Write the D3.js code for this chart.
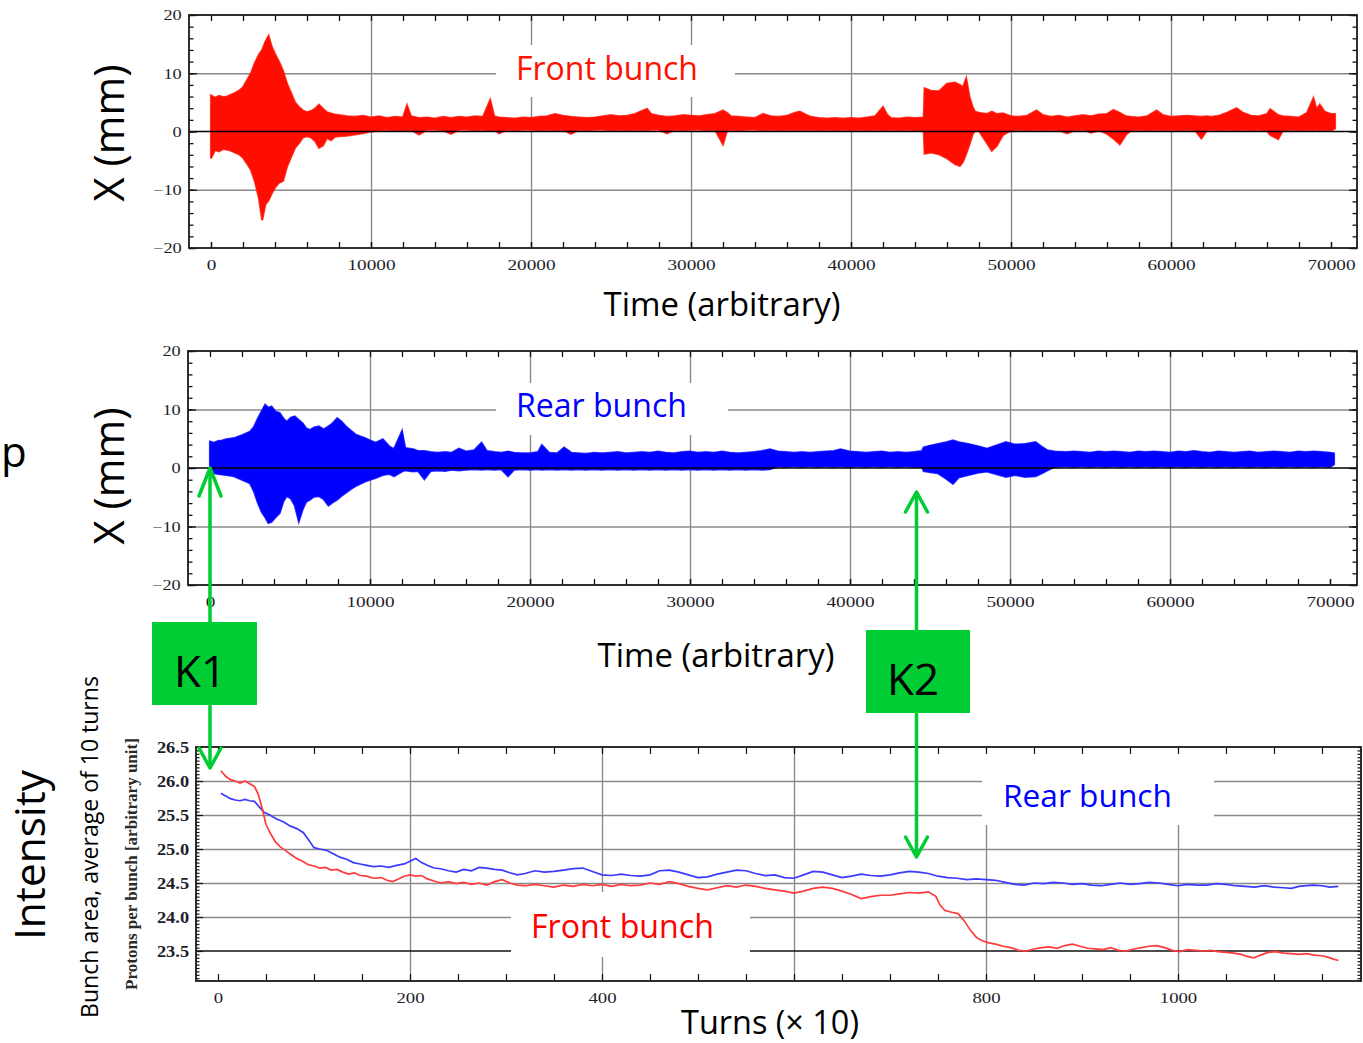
<!DOCTYPE html>
<html>
<head>
<meta charset="utf-8">
<script src="https://cdn.jsdelivr.net/npm/d3@7"></script>
<style>
  html, body { margin: 0; padding: 0; background: #ffffff; }
  svg { display: block; }
</style>
</head>
<body>
<script>
// ---------------------------------------------------------------
// Beam position envelopes: [time, upper edge (mm), lower edge (mm)]
// ---------------------------------------------------------------
const frontEnvelope = [
  [0,6.2,-4.6],[250,5.8,-3.2],[500,6.1,-3.4],[750,5.9,-3.0],[1000,6.0,-3.1],
  [1250,6.3,-3.3],[1500,6.6,-3.6],[1750,7.0,-3.9],[2000,7.6,-4.5],[2250,8.8,-5.5],
  [2500,10.0,-6.6],[2750,11.8,-8.6],[3000,13.2,-11.5],[3200,14.0,-15.2],[3400,15.4,-12.5],
  [3600,16.4,-11.8],[3800,14.5,-10.6],[4000,13.3,-9.6],[4250,12.0,-8.8],[4500,10.4,-8.5],
  [4750,8.2,-6.0],[5000,6.6,-4.4],[5250,5.0,-2.8],[5500,4.2,-2.0],[5750,3.6,-1.0],
  [6000,3.3,-0.8],[6250,3.5,-1.0],[6500,3.9,-1.6],[6750,4.6,-2.8],[7000,3.9,-2.4],
  [7250,3.3,-1.1],[7500,3.1,-1.5],[7750,2.9,-0.9],[8000,2.8,-0.8],[8500,2.6,-0.7],
  [9000,2.5,-0.5],[9500,2.7,-0.3],[10000,2.4,0.0],[10500,2.6,0.2],[11000,2.3,0.3],
  [11500,2.5,0.1],[12000,2.4,0.2],[12250,4.5,0.2],[12500,2.6,0.3],[13000,2.3,-0.5],
  [13500,2.4,0.3],[14000,2.2,0.3],[14500,2.5,0.2],[15000,2.3,-0.4],[15500,2.5,0.3],
  [16000,2.4,0.3],[16500,2.6,0.2],[17000,2.5,0.3],[17450,5.4,0.1],[17700,2.6,0.3],
  [18000,2.4,-0.3],[18500,2.3,0.3],[19000,2.2,0.2],[19500,2.4,0.3],[20000,2.3,0.3],
  [20500,2.5,0.2],[21000,2.6,0.3],[21500,3.0,0.2],[22000,2.7,0.3],[22500,2.5,-0.4],
  [23000,2.4,0.3],[23500,2.3,0.2],[24000,2.4,0.3],[24500,2.6,0.3],[25000,2.8,0.2],
  [25500,2.6,0.3],[26000,2.7,0.2],[26500,3.0,0.3],[27250,3.9,0.2],[27500,3.0,0.3],
  [28000,2.7,0.3],[28500,2.5,-0.3],[29000,2.6,0.3],[29500,2.8,0.2],[30000,2.7,0.3],
  [30500,2.6,0.3],[31000,2.8,0.2],[31500,3.0,0.3],[32000,3.6,-2.2],[32250,3.2,0.2],
  [32500,2.6,0.3],[33000,2.5,0.2],[33500,2.4,0.3],[34000,2.3,0.3],[34500,3.0,0.2],
  [35000,2.6,0.3],[35500,2.5,0.2],[36000,2.7,0.3],[36500,3.2,0.2],[36800,3.4,0.3],
  [37250,2.8,0.2],[37500,2.5,0.3],[38000,2.3,0.2],[38500,2.2,0.3],[39000,2.3,0.2],
  [39500,2.2,0.3],[40000,2.3,0.2],[40500,2.2,0.3],[41000,2.4,0.2],[41500,2.6,0.3],
  [42000,4.2,0.2],[42250,2.9,0.2],[42500,2.3,0.3],[43000,2.2,0.2],[43500,2.4,0.3],
  [44000,2.3,0.2],[44550,2.4,0.2],[44600,7.4,-3.8],[45000,7.0,-3.6],[45500,6.9,-3.9],
  [46000,8.2,-4.6],[46500,8.4,-5.6],[46800,8.0,-5.9],[47000,7.6,-5.2],[47200,9.1,-3.8],
  [47400,6.0,-2.2],[47600,4.2,-0.5],[47750,3.4,0.2],[48000,3.2,0.1],[48500,3.0,-2.0],
  [48800,3.4,-3.3],[49100,3.0,-2.5],[49500,3.1,-0.6],[50000,2.6,0.2],[50500,2.5,0.3],
  [51000,2.7,0.2],[51600,3.6,0.3],[52000,2.8,0.2],[52500,2.5,0.3],[53000,2.7,0.2],
  [53500,2.4,-0.3],[54000,2.6,0.2],[54500,2.8,0.3],[55000,2.6,-0.2],[55500,2.9,0.2],
  [56000,3.0,-0.4],[56400,3.7,-1.2],[56800,3.2,-2.2],[57200,2.6,-0.5],[57500,2.5,0.2],
  [58000,2.4,0.3],[58500,2.6,0.2],[59100,3.6,0.3],[59500,2.8,0.2],[60000,2.5,0.3],
  [60500,2.6,0.2],[61000,2.7,0.3],[61500,2.6,0.2],[61900,2.5,-1.2],[62250,2.6,0.2],
  [62500,2.5,0.3],[63000,2.7,0.2],[63500,3.2,0.3],[64100,4.0,0.2],[64500,3.2,0.3],
  [65000,2.7,0.2],[65500,2.6,0.3],[66000,3.0,0.1],[66200,3.8,-0.6],[66700,2.8,-1.3],
  [67000,2.6,0.2],[67500,2.5,0.3],[68000,2.4,0.2],[68500,3.2,0.3],[68900,5.7,0.2],
  [69100,3.8,0.3],[69300,4.6,0.2],[69600,3.4,0.3],[70000,3.0,0.2],[70250,3.0,0.5]
];

const rearEnvelope = [
  [0,4.5,-0.6],[250,4.3,-0.9],[500,4.6,-1.0],[750,4.7,-1.1],[1000,4.9,-1.2],
  [1500,5.1,-1.4],[2000,5.6,-2.0],[2500,6.2,-2.6],[2750,7.0,-4.0],[3000,8.5,-6.0],
  [3250,9.8,-7.6],[3450,10.8,-8.4],[3650,10.3,-9.4],[3850,10.5,-9.2],[4100,9.6,-8.4],
  [4350,9.4,-7.7],[4600,8.4,-5.6],[4800,7.9,-4.8],[5050,8.6,-5.2],[5300,8.8,-6.4],
  [5550,8.2,-9.1],[5800,7.6,-7.0],[6000,6.8,-5.8],[6250,6.5,-5.4],[6500,6.9,-4.9],
  [6800,7.1,-4.8],[7100,6.6,-5.3],[7400,7.1,-6.4],[7650,7.6,-5.9],[7950,8.5,-5.4],
  [8200,8.0,-4.8],[8500,7.1,-4.2],[8800,6.4,-3.6],[9100,5.7,-3.1],[9400,5.4,-2.7],
  [9700,5.1,-2.3],[10000,4.7,-2.0],[10350,4.3,-1.7],[10800,4.9,-1.2],[11200,3.7,-1.0],
  [11500,3.2,-1.4],[12000,6.3,-0.6],[12200,3.4,-0.4],[12700,3.2,-0.6],[13000,2.9,-0.5],
  [13400,2.9,-1.9],[13800,2.7,-0.5],[14200,2.6,-0.4],[14700,2.7,-0.5],[15100,2.6,-0.3],
  [15560,3.3,-0.4],[16000,2.8,-0.3],[16500,3.0,-0.2],[16970,4.3,-0.3],[17300,2.9,-0.2],
  [17800,2.7,-0.3],[18200,2.6,-0.2],[18630,2.8,-1.4],[19000,2.6,-0.3],[19500,2.5,-0.2],
  [20000,2.5,-0.3],[20500,2.7,-0.2],[20740,3.9,-0.3],[21200,2.6,-0.2],[21700,2.5,-0.3],
  [22130,3.5,-0.2],[22600,2.6,-0.3],[23000,2.5,-0.2],[23500,2.4,-0.3],[24000,2.6,-0.2],
  [24500,2.5,-0.3],[25000,2.6,-0.2],[25500,2.7,-0.3],[26000,2.5,-0.2],[26500,2.6,-0.3],
  [27000,2.7,-0.2],[27500,2.6,-0.3],[28000,2.8,-0.2],[28500,2.6,-0.3],[29000,2.5,-0.2],
  [29500,2.7,-0.3],[30000,2.8,-0.2],[30500,2.6,-0.3],[31000,2.7,-0.2],[31500,2.6,-0.3],
  [32000,2.8,-0.2],[32500,2.6,-0.3],[33000,2.5,-0.2],[33500,2.6,-0.3],[34000,2.7,-0.2],
  [34500,2.9,-0.3],[35000,3.2,-0.2],[35500,2.8,0.3],[36000,2.7,0.2],[36500,2.6,0.3],
  [37000,2.7,0.2],[37500,2.6,0.3],[38000,2.7,0.2],[38500,2.8,0.3],[39000,2.9,0.2],
  [39400,3.2,0.3],[40000,2.8,0.2],[40500,2.7,0.3],[41000,2.6,0.2],[41500,2.7,0.3],
  [42000,2.8,0.2],[42500,2.6,0.3],[43000,2.7,0.2],[43500,2.6,0.3],[44000,2.7,0.2],
  [44500,2.9,0.2],[44600,3.5,-0.5],[45000,3.8,-0.7],[45500,4.1,-0.9],[46000,4.4,-1.8],
  [46440,4.7,-2.7],[46800,4.4,-1.6],[47400,4.1,-1.2],[48000,3.7,-0.8],[48560,3.3,-0.6],
  [49100,3.8,-1.0],[49750,4.4,-1.5],[50300,4.0,-1.2],[50940,4.1,-1.5],[51600,4.4,-1.4],
  [52000,3.6,-0.9],[52340,3.0,-0.4],[52800,2.8,0.2],[53500,2.7,0.3],[54000,2.8,0.2],
  [54500,2.7,0.3],[55000,2.6,0.2],[55500,2.8,0.3],[56000,2.7,0.2],[56500,2.8,0.3],
  [57000,2.7,0.2],[57500,2.6,0.3],[58000,2.8,0.2],[58500,2.7,0.3],[59000,2.8,0.2],
  [59500,2.7,0.3],[60000,2.6,0.2],[60500,2.8,0.3],[61000,2.7,0.2],[61500,2.9,0.3],
  [62000,2.7,0.2],[62500,2.6,0.3],[63000,2.8,0.2],[63500,2.7,0.3],[64000,2.6,0.2],
  [64500,2.7,0.3],[65000,2.8,0.2],[65500,2.6,0.3],[66000,2.7,0.2],[66500,2.8,0.3],
  [67000,2.7,0.2],[67500,2.6,0.3],[68000,2.8,0.2],[68500,2.7,0.3],[69000,2.8,0.2],
  [69500,2.7,0.3],[70000,2.6,0.2],[70250,2.5,0.6]
];

// Protons per bunch (averaged over 10 turns): [turns/10, intensity]
const frontIntensity = [
  [3,26.15],[8,26.07],[13,26.02],[18,26.00],[23,25.97],[28,26.00],[33,25.96],[38,25.92],
  [42,25.80],[46,25.60],[50,25.36],[55,25.22],[60,25.10],[65,25.03],[70,24.98],[76,24.92],
  [82,24.86],[88,24.82],[94,24.77],[100,24.75],[106,24.72],[112,24.73],[118,24.69],[124,24.70],
  [130,24.66],[136,24.63],[142,24.65],[148,24.61],[155,24.60],[162,24.57],[170,24.58],[176,24.54],
  [182,24.52],[188,24.56],[194,24.60],[200,24.62],[206,24.60],[212,24.61],[218,24.56],[225,24.53],
  [232,24.50],[240,24.52],[248,24.49],[256,24.51],[264,24.48],[272,24.50],[280,24.47],[288,24.52],
  [296,24.55],[304,24.50],[312,24.47],[320,24.46],[330,24.48],[340,24.46],[350,24.44],[360,24.47],
  [370,24.45],[380,24.48],[390,24.46],[400,24.48],[410,24.45],[420,24.48],[430,24.46],[440,24.47],
  [450,24.50],[460,24.48],[470,24.52],[480,24.49],[490,24.45],[500,24.42],[510,24.40],[520,24.43],
  [530,24.46],[540,24.44],[550,24.47],[560,24.45],[570,24.42],[580,24.40],[590,24.38],[600,24.35],
  [610,24.38],[620,24.42],[630,24.44],[640,24.42],[650,24.38],[660,24.33],[670,24.27],[680,24.30],
  [690,24.32],[700,24.32],[710,24.34],[720,24.36],[730,24.35],[740,24.37],[748,24.30],[752,24.18],
  [757,24.10],[764,24.07],[771,24.05],[777,23.95],[784,23.80],[790,23.70],[796,23.65],[803,23.62],
  [810,23.60],[818,23.57],[826,23.55],[834,23.51],[842,23.50],[850,23.53],[858,23.55],[866,23.56],
  [874,23.54],[882,23.58],[890,23.60],[898,23.57],[906,23.54],[914,23.53],[922,23.52],[930,23.55],
  [938,23.51],[946,23.50],[954,23.53],[962,23.55],[970,23.57],[978,23.58],[986,23.55],[994,23.51],
  [1002,23.49],[1010,23.52],[1018,23.51],[1026,23.50],[1034,23.51],[1042,23.49],[1050,23.48],[1058,23.47],
  [1066,23.45],[1072,23.42],[1079,23.40],[1086,23.44],[1094,23.48],[1102,23.49],[1110,23.47],[1118,23.46],
  [1126,23.45],[1134,23.46],[1142,23.44],[1150,23.43],[1156,23.41],[1162,23.38],[1167,23.36]
];

const rearIntensity = [
  [3,25.82],[8,25.78],[13,25.74],[18,25.72],[23,25.71],[28,25.73],[33,25.71],[38,25.70],
  [43,25.62],[48,25.54],[54,25.50],[61,25.44],[68,25.40],[75,25.34],[82,25.30],[89,25.24],
  [95,25.12],[100,25.02],[106,25.00],[113,24.98],[120,24.93],[127,24.88],[134,24.85],[141,24.80],
  [148,24.78],[155,24.76],[162,24.74],[170,24.75],[178,24.73],[186,24.76],[194,24.78],[200,24.82],
  [206,24.86],[212,24.80],[218,24.76],[225,24.72],[232,24.71],[240,24.68],[248,24.66],[256,24.70],
  [264,24.68],[272,24.73],[280,24.72],[288,24.70],[296,24.69],[304,24.65],[312,24.62],[320,24.64],
  [330,24.68],[340,24.66],[350,24.67],[360,24.69],[370,24.71],[380,24.72],[390,24.67],[400,24.62],
  [410,24.61],[420,24.63],[430,24.61],[440,24.60],[450,24.62],[460,24.68],[470,24.69],[480,24.66],
  [490,24.62],[500,24.58],[510,24.59],[520,24.63],[530,24.66],[540,24.69],[550,24.68],[560,24.64],
  [570,24.61],[580,24.62],[590,24.58],[600,24.57],[610,24.62],[620,24.67],[630,24.66],[640,24.62],
  [650,24.58],[660,24.60],[670,24.63],[680,24.61],[690,24.60],[700,24.62],[710,24.65],[720,24.67],
  [730,24.66],[740,24.64],[750,24.60],[760,24.58],[770,24.57],[780,24.55],[790,24.56],[800,24.55],
  [810,24.54],[820,24.51],[830,24.48],[840,24.47],[850,24.50],[860,24.49],[870,24.51],[880,24.50],
  [890,24.48],[900,24.49],[910,24.47],[920,24.46],[930,24.48],[940,24.50],[950,24.48],[960,24.49],
  [970,24.51],[980,24.50],[990,24.48],[1000,24.46],[1010,24.48],[1020,24.47],[1030,24.47],[1040,24.49],
  [1050,24.48],[1060,24.46],[1070,24.45],[1080,24.44],[1090,24.46],[1100,24.44],[1110,24.43],[1118,24.42],
  [1126,24.45],[1134,24.46],[1141,24.47],[1150,24.46],[1158,24.44],[1167,24.45]
];

// Axis ticks and labels
const timeLabelTicks = [0, 10000, 20000, 30000, 40000, 50000, 60000, 70000];
const timeGridTicks = [10000, 20000, 30000, 40000, 50000, 60000];
const timeMinorTicks = d3.range(0, 70001, 2000);
const xmmLabelTicks = [-20, -10, 0, 10, 20];
const xmmMinorTicks = d3.range(-20, 20.01, 2);
const turnLabelTicks = [0, 200, 400, 800, 1000];
const turnGridTicks = [200, 400, 600, 800, 1000];
const turnMinorTicks = d3.range(0, 1151, 50);
const intensityLabelTicks = [23.5, 24.0, 24.5, 25.0, 25.5, 26.0, 26.5];
const intensityGridTicks = [24.0, 24.5, 25.0, 25.5, 26.0];
const intensityMinorTicks = d3.range(23.1, 26.501, 0.05).map(v => +v.toFixed(2));

// ---------------------------------------------------------------
const W = 1363, H = 1043;
const SANS = "'Open Sans', 'DejaVu Sans', sans-serif";
const SERIF = "'Liberation Serif', 'DejaVu Serif', serif";
const GRID = "#8a8a8a";
const GREEN = "#00cc33";
const TICK_TEXT = "#1e1e2c";

const svg = d3.select("body").append("svg")
  .attr("width", W).attr("height", H)
  .attr("viewBox", `0 0 ${W} ${H}`);

const defs = svg.append("defs");
defs.append("filter").attr("id", "soft")
  .attr("x", "-5%").attr("y", "-5%").attr("width", "110%").attr("height", "110%")
  .append("feGaussianBlur").attr("stdDeviation", 0.5);
defs.append("filter").attr("id", "fuzz")
  .attr("x", "-5%").attr("y", "-10%").attr("width", "110%").attr("height", "120%")
  .append("feGaussianBlur").attr("stdDeviation", 0.7);

// scale a text so that its rendered width equals `width`
function fitText(sel, width) {
  sel.style("font-size", "100px");
  const len = sel.node().getComputedTextLength();
  sel.style("font-size", (100 * width / len) + "px");
  return sel;
}

const fmtSigned = d => d < 0 ? "\u2212" + (-d) : String(d);

function styleTickText(g, size) {
  g.selectAll("text")
    .attr("fill", TICK_TEXT)
    .style("font-family", SERIF)
    .style("font-size", (size || 15) + "px");
}

// ---------------------------------------------------------------
// Position-vs-time panel
function signalPanel(cfg) {
  const { top, bottom, left, right, x0, x70, env, color, legend } = cfg;
  const x = d3.scaleLinear().domain([0, 70000]).range([x0, x70]);
  const y = d3.scaleLinear().domain([-20, 20]).range([bottom, top]);
  const g = svg.append("g");
  const clipId = "clip" + top;
  defs.append("clipPath").attr("id", clipId)
    .append("rect").attr("x", left).attr("y", top).attr("width", right - left).attr("height", bottom - top);

  // grid
  g.append("g").attr("transform", `translate(0,${bottom})`)
    .call(d3.axisBottom(x).tickValues(timeGridTicks).tickSize(-(bottom - top)).tickFormat(""))
    .call(a => a.select(".domain").remove())
    .call(a => a.selectAll("line").attr("stroke", GRID).attr("stroke-width", 1.4));
  g.append("g").attr("transform", `translate(${left},0)`)
    .call(d3.axisLeft(y).tickValues([-10, 10]).tickSize(-(right - left)).tickFormat(""))
    .call(a => a.select(".domain").remove())
    .call(a => a.selectAll("line").attr("stroke", GRID).attr("stroke-width", 1.4));

  // white backing behind the legend label
  g.append("rect").attr("x", legend.box[0]).attr("y", legend.box[1])
    .attr("width", legend.box[2] - legend.box[0]).attr("height", legend.box[3] - legend.box[1])
    .attr("fill", "#fff");

  // signal envelope: solid body plus a soft, ragged edge
  const area = d3.area()
    .x(d => x(d[0])).y0(d => y(d[2])).y1(d => y(d[1]));
  g.append("path").datum(env)
    .attr("clip-path", `url(#${clipId})`)
    .attr("d", area)
    .attr("fill", "none").attr("stroke", color).attr("stroke-width", 2.2)
    .attr("stroke-opacity", 0.75).attr("stroke-linejoin", "miter")
    .attr("filter", "url(#fuzz)");
  g.append("path").datum(env)
    .attr("clip-path", `url(#${clipId})`)
    .attr("d", area)
    .attr("fill", color).attr("stroke", color).attr("stroke-width", 0.8)
    .attr("stroke-linejoin", "miter")
    .attr("filter", "url(#soft)");

  // zero line
  g.append("line").attr("x1", left).attr("x2", right).attr("y1", y(0)).attr("y2", y(0))
    .attr("stroke", "#000").attr("stroke-width", 1.6);

  // ticks on all four sides, pointing inward
  const tickLine = a => a.selectAll("line").attr("stroke", "#111").attr("stroke-width", 1.3);
  g.append("g").attr("transform", `translate(0,${bottom})`)
    .call(d3.axisBottom(x).tickValues(timeMinorTicks).tickSize(-6).tickFormat(""))
    .call(a => a.select(".domain").remove()).call(tickLine);
  g.append("g").attr("transform", `translate(0,${top})`)
    .call(d3.axisTop(x).tickValues(timeMinorTicks).tickSize(-6).tickFormat(""))
    .call(a => a.select(".domain").remove()).call(tickLine);
  g.append("g").attr("transform", `translate(${left},0)`)
    .call(d3.axisLeft(y).tickValues(xmmMinorTicks).tickSize(-4.5).tickFormat(""))
    .call(a => a.select(".domain").remove()).call(tickLine);
  g.append("g").attr("transform", `translate(${right},0)`)
    .call(d3.axisRight(y).tickValues(xmmMinorTicks).tickSize(-4.5).tickFormat(""))
    .call(a => a.select(".domain").remove()).call(tickLine);
  g.append("g").attr("transform", `translate(${left},0)`)
    .call(d3.axisLeft(y).tickValues(xmmLabelTicks).tickSize(-8).tickPadding(7).tickFormat(fmtSigned))
    .call(a => a.select(".domain").remove()).call(tickLine)
    .call(a => styleTickText(a, 15))
    .call(a => a.selectAll("text").attr("x", -6).attr("transform", "scale(1.22,1)"));
  g.append("g").attr("transform", `translate(${right},0)`)
    .call(d3.axisRight(y).tickValues(xmmLabelTicks).tickSize(-8).tickFormat(""))
    .call(a => a.select(".domain").remove()).call(tickLine);
  g.append("g").attr("transform", `translate(0,${bottom})`)
    .call(d3.axisBottom(x).tickValues(timeLabelTicks).tickSize(-6).tickPadding(11).tickFormat(d => d))
    .call(a => a.select(".domain").remove()).call(tickLine)
    .call(a => styleTickText(a, 15))
    .call(a => a.selectAll("text").attr("transform", "scale(1.28,1)"));

  // frame
  g.append("rect").attr("x", left).attr("y", top)
    .attr("width", right - left).attr("height", bottom - top)
    .attr("fill", "none").attr("stroke", "#1a1a1a").attr("stroke-width", 1.8);

  // legend label
  fitText(g.append("text").text(legend.text)
    .attr("x", legend.x).attr("y", legend.baseline)
    .attr("fill", color).style("font-family", SANS), legend.width);

  // axis titles
  fitText(svg.append("text").text("Time (arbitrary)")
    .attr("x", cfg.timeTitle[0]).attr("y", cfg.timeTitle[1]).attr("text-anchor", "middle")
    .attr("fill", "#000").style("font-family", SANS), 237);
  fitText(svg.append("text").text("X (mm)")
    .attr("transform", `translate(${cfg.xmmTitle[0]},${cfg.xmmTitle[1]}) rotate(-90)`)
    .attr("text-anchor", "middle").attr("fill", "#000").style("font-family", SANS), 137);
}

signalPanel({
  top: 15, bottom: 248, left: 189, right: 1357, x0: 211, x70: 1331,
  env: frontEnvelope, color: "#ff1100",
  legend: { text: "Front bunch", x: 516, baseline: 80, width: 182, box: [496, 45, 735, 97] },
  timeTitle: [722, 316], xmmTitle: [124, 133]
});

signalPanel({
  top: 351, bottom: 585, left: 188, right: 1357, x0: 210, x70: 1330,
  env: rearEnvelope, color: "#0000ff",
  legend: { text: "Rear bunch", x: 516, baseline: 417, width: 171, box: [496, 383, 728, 435] },
  timeTitle: [716, 667], xmmTitle: [124, 476]
});

// ---------------------------------------------------------------
// Intensity panel
(function intensityPanel() {
  const top = 747, bottom = 981, left = 196, right = 1361;
  const x = d3.scaleLinear().domain([0, 1000]).range([218, 1178]);
  const y = d3.scaleLinear().domain([23.5, 26.5]).range([951, 747]);
  const g = svg.append("g");
  defs.append("clipPath").attr("id", "clipI")
    .append("rect").attr("x", left).attr("y", top).attr("width", right - left).attr("height", bottom - top);

  g.append("g").attr("transform", `translate(0,${bottom})`)
    .call(d3.axisBottom(x).tickValues(turnGridTicks).tickSize(-(bottom - top)).tickFormat(""))
    .call(a => a.select(".domain").remove())
    .call(a => a.selectAll("line").attr("stroke", GRID).attr("stroke-width", 1.4));
  g.append("g").attr("transform", `translate(${left},0)`)
    .call(d3.axisLeft(y).tickValues(intensityGridTicks).tickSize(-(right - left)).tickFormat(""))
    .call(a => a.select(".domain").remove())
    .call(a => a.selectAll("line").attr("stroke", GRID).attr("stroke-width", 1.4));
  g.append("line").attr("x1", left).attr("x2", right).attr("y1", y(23.5)).attr("y2", y(23.5))
    .attr("stroke", "#111").attr("stroke-width", 1.6);

  // white backings behind the two legend labels
  [[982, 749, 1214, 825], [511, 892, 750, 957]].forEach(b => {
    g.append("rect").attr("x", b[0]).attr("y", b[1])
      .attr("width", b[2] - b[0]).attr("height", b[3] - b[1]).attr("fill", "#fff");
  });

  const line = d3.line().x(d => x(d[0])).y(d => y(d[1]));
  g.append("path").datum(rearIntensity).attr("d", line)
    .attr("clip-path", "url(#clipI)")
    .attr("fill", "none").attr("stroke", "#3a3aff").attr("stroke-width", 1.7)
    .attr("stroke-linejoin", "miter").attr("filter", "url(#soft)");
  g.append("path").datum(frontIntensity).attr("d", line)
    .attr("clip-path", "url(#clipI)")
    .attr("fill", "none").attr("stroke", "#ff3a3a").attr("stroke-width", 1.7)
    .attr("stroke-linejoin", "miter").attr("filter", "url(#soft)");

  const tickLine = a => a.selectAll("line").attr("stroke", "#111").attr("stroke-width", 1.2);
  g.append("g").attr("transform", `translate(0,${bottom})`)
    .call(d3.axisBottom(x).tickValues(turnMinorTicks).tickSize(-7).tickFormat(""))
    .call(a => a.select(".domain").remove()).call(tickLine);
  g.append("g").attr("transform", `translate(0,${top})`)
    .call(d3.axisTop(x).tickValues(turnMinorTicks).tickSize(-7).tickFormat(""))
    .call(a => a.select(".domain").remove()).call(tickLine);
  g.append("g").attr("transform", `translate(${left},0)`)
    .call(d3.axisLeft(y).tickValues(intensityMinorTicks).tickSize(-3.5).tickFormat(""))
    .call(a => a.select(".domain").remove()).call(tickLine);
  g.append("g").attr("transform", `translate(${right},0)`)
    .call(d3.axisRight(y).tickValues(intensityMinorTicks).tickSize(-3.5).tickFormat(""))
    .call(a => a.select(".domain").remove()).call(tickLine);
  g.append("g").attr("transform", `translate(${left},0)`)
    .call(d3.axisLeft(y).tickValues(intensityLabelTicks).tickSize(-7).tickPadding(7).tickFormat(d3.format(".1f")))
    .call(a => a.select(".domain").remove()).call(tickLine)
    .call(a => styleTickText(a, 16))
    .call(a => a.selectAll("text").attr("x", -6).style("font-weight", "bold").attr("transform", "scale(1.15,1)"));
  g.append("g").attr("transform", `translate(0,${bottom})`)
    .call(d3.axisBottom(x).tickValues(turnLabelTicks).tickSize(0).tickPadding(11).tickFormat(d => d))
    .call(a => a.select(".domain").remove())
    .call(a => styleTickText(a, 15))
    .call(a => a.selectAll("text").attr("transform", "scale(1.25,1)"));

  g.append("rect").attr("x", left).attr("y", top)
    .attr("width", right - left).attr("height", bottom - top)
    .attr("fill", "none").attr("stroke", "#1a1a1a").attr("stroke-width", 1.8);

  fitText(g.append("text").text("Rear bunch").attr("x", 1003).attr("y", 807)
    .attr("fill", "#0000ff").style("font-family", SANS), 169);
  fitText(g.append("text").text("Front bunch").attr("x", 531).attr("y", 938)
    .attr("fill", "#ff0000").style("font-family", SANS), 183);

  fitText(svg.append("text").text("Turns (\u00d7 10)")
    .attr("x", 770).attr("y", 1034).attr("text-anchor", "middle")
    .attr("fill", "#000").style("font-family", SANS), 178);
  fitText(svg.append("text").text("Protons per bunch [arbitrary unit]")
    .attr("transform", "translate(137,864) rotate(-90)").attr("text-anchor", "middle")
    .attr("fill", "#2a2a2a").style("font-family", SERIF).style("font-weight", "bold"), 252);
  fitText(svg.append("text").text("Bunch area, average of 10 turns")
    .attr("transform", "translate(98,847) rotate(-90)").attr("text-anchor", "middle")
    .attr("fill", "#000").style("font-family", SANS), 342);
  fitText(svg.append("text").text("Intensity")
    .attr("transform", "translate(45,855) rotate(-90)").attr("text-anchor", "middle")
    .attr("fill", "#000").style("font-family", SANS), 170);
})();

// letter at the left margin
svg.append("text").text("p").attr("x", 1).attr("y", 467)
  .attr("fill", "#000").style("font-family", SANS).style("font-size", "42px");

// ---------------------------------------------------------------
// K1 / K2 markers: double-headed arrows with labelled boxes
function marker(cfg) {
  const g = svg.append("g");
  const stroke = { stroke: GREEN, "stroke-width": 3.5, fill: "none", "stroke-linecap": "round", "stroke-linejoin": "round" };
  const apply = s => { Object.entries(stroke).forEach(([k, v]) => s.attr(k, v)); return s; };
  apply(g.append("line").attr("x1", cfg.x).attr("x2", cfg.x).attr("y1", cfg.tipTop + 2).attr("y2", cfg.tipBottom - 2));
  apply(g.append("path").attr("d", d3.line()([[cfg.x - 11, cfg.tipTop + cfg.headTop], [cfg.x, cfg.tipTop], [cfg.x + 11, cfg.tipTop + cfg.headTop]])));
  apply(g.append("path").attr("d", d3.line()([[cfg.x - 11, cfg.tipBottom - 20], [cfg.x, cfg.tipBottom], [cfg.x + 11, cfg.tipBottom - 20]])));
  g.append("rect").attr("x", cfg.box[0]).attr("y", cfg.box[1])
    .attr("width", cfg.box[2] - cfg.box[0]).attr("height", cfg.box[3] - cfg.box[1])
    .attr("fill", GREEN);
  fitText(g.append("text").text(cfg.label)
    .attr("x", cfg.labelX).attr("y", cfg.labelBaseline).attr("text-anchor", "middle")
    .attr("fill", "#000").style("font-family", SANS), 52);
}

marker({ label: "K1", x: 210, tipTop: 468, tipBottom: 768, headTop: 28,
  box: [152, 622, 257, 705], labelX: 200, labelBaseline: 687 });
marker({ label: "K2", x: 916.5, tipTop: 492, tipBottom: 857, headTop: 20,
  box: [866, 630, 970, 713], labelX: 913, labelBaseline: 695 });
</script>
</body>
</html>
